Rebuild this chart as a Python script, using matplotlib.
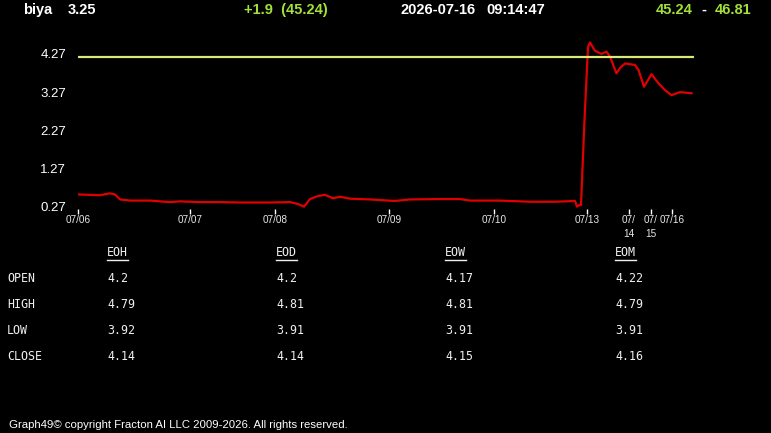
import matplotlib
matplotlib.use("Agg")
import matplotlib.pyplot as plt
from matplotlib.lines import Line2D

# ---------------- data ----------------
symbol = "biya"
last_price = "3.25"
change_text = "+1.9  (45.24)"
date_text = "2026-07-16"
time_text = "09:14:47"
range_low = "45.24"
range_high = "46.81"

# sample index along the session axis and price
t = [0, 2.4, 4.4, 6.4, 7.4, 8.4, 10.4, 14.4, 18.4, 20.4, 24.4, 28.4, 32.4, 38.4,
     42.4, 44.0, 45.2, 46.4, 48.0, 49.4, 51.0, 52.4, 54.4, 58.4, 63.4, 66.4,
     72.4, 76.4, 78.4, 84.4, 90.4, 95.4, 99.4, 99.8, 100.2, 100.6, 101.3, 102.0,
     102.4, 103.4, 104.7, 105.7, 106.4, 107.7, 108.4, 109.4, 111.4, 112.1,
     113.2, 114.7, 116.1, 117.4, 118.7, 120.4, 122.7]
price = [0.59, 0.58, 0.57, 0.62, 0.59, 0.46, 0.43, 0.43, 0.39, 0.41, 0.39, 0.39,
         0.38, 0.38, 0.39, 0.34, 0.27, 0.47, 0.55, 0.58, 0.49, 0.53, 0.48, 0.46,
         0.42, 0.46, 0.47, 0.47, 0.43, 0.43, 0.40, 0.40, 0.42, 0.27, 0.31, 0.31,
         2.54, 4.45, 4.57, 4.35, 4.27, 4.33, 4.20, 3.76, 3.90, 4.02, 3.98, 3.85,
         3.41, 3.74, 3.50, 3.32, 3.19, 3.27, 3.24]
open_level = 4.2

y_ticks = [0.27, 1.27, 2.27, 3.27, 4.27]
x_tick_pos = [0, 22.4, 39.4, 62.2, 83.2, 101.8, 110.2, 114.6, 118.8]
x_tick_labels = ["07/06", "07/07", "07/08", "07/09", "07/10", "07/13",
                 "07/\n14", "07/\n15", "07/16"]

table_cols = ["EOH", "EOD", "EOW", "EOM"]
table_rows = ["OPEN", "HIGH", "LOW", "CLOSE"]
table_vals = [["4.2", "4.2", "4.17", "4.22"],
              ["4.79", "4.81", "4.81", "4.79"],
              ["3.92", "3.91", "3.91", "3.91"],
              ["4.14", "4.14", "4.15", "4.16"]]

footer = "Graph49\u00a9 copyright Fracton AI LLC 2009-2026. All rights reserved."

# ---------------- figure ----------------
W, H = 771, 433
fig = plt.figure(figsize=(W / 100, H / 100), dpi=100, facecolor="black")

def fx(px):
    return px / W

def fy(py):
    return 1 - py / H

GREEN = "#a3e03a"
sans = ["Liberation Sans", "DejaVu Sans"]
mono = ["DejaVu Sans Mono"]

# header
hdr = dict(fontsize=10.5, fontweight="bold", family=sans, va="center")
fig.text(fx(23), fy(10), symbol, color="white", **hdr)
fig.text(fx(68), fy(10), last_price, color="white", **hdr)
fig.text(fx(244), fy(10), change_text, color=GREEN, **hdr)
fig.text(fx(400), fy(10), date_text, color="white", **hdr)
fig.text(fx(486), fy(10), time_text, color="white", **hdr)
fig.text(fx(656), fy(10), range_low, color=GREEN, **hdr)
fig.text(fx(704), fy(10), "-", color="white", ha="center", **hdr)
fig.text(fx(751), fy(10), range_high, color=GREEN, ha="right", **hdr)

# chart
left, right, top, bottom = 78, 694, 38, 209
ax = fig.add_axes([fx(left), fy(bottom), fx(right - left), (bottom - top) / H])
ax.set_facecolor("black")
ax.plot(t, price, color="#e00000", lw=1.6, solid_joinstyle="round")
ax.axhline(open_level, color="#dde87a", lw=1.6)
ax.set_xlim(0, 123.2)
ax.set_ylim(0.27 - 2.3 / 38.2, 0.27 + 168.7 / 38.2)
for s in ax.spines.values():
    s.set_visible(False)
ax.set_yticks(y_ticks)
ax.set_yticklabels([f"{v:.2f}" for v in y_ticks])
ax.tick_params(axis="y", length=0, pad=8.5, labelcolor="white", labelsize=9.5)
for lab in ax.get_yticklabels():
    lab.set_family(sans)
ax.set_xticks(x_tick_pos)
ax.set_xticklabels(x_tick_labels)
ax.tick_params(axis="x", length=3.5, width=1, color="white", direction="out",
               pad=1, labelcolor="#e8e8e8", labelsize=7.2)
for lab in ax.get_xticklabels():
    lab.set_family(sans)
    lab.set_linespacing(1.45)

# table
tfont = dict(fontsize=8.4, family=mono, color="#f0f0f0", va="center")
col_x = [107, 276, 445, 615]
row_y = [279, 305, 331, 357]
head_y = 253
fig.canvas.draw()
renderer = fig.canvas.get_renderer()
for cx, name in zip(col_x, table_cols):
    txt = fig.text(fx(cx), fy(head_y), name, **tfont)
    bb = txt.get_window_extent(renderer)
    fig.add_artist(Line2D([bb.x0 / W, bb.x1 / W], [fy(260), fy(260)],
                          transform=fig.transFigure, color="#f0f0f0", lw=1))
for ry, rname, vals in zip(row_y, table_rows, table_vals):
    fig.text(fx(7), fy(ry), rname, **tfont)
    for cx, v in zip(col_x, vals):
        fig.text(fx(cx), fy(ry), v, **tfont)

# footer
fig.text(fx(9), fy(425), footer, color="white", fontsize=8.2, family=sans,
         va="center")

fig.savefig("out.png", dpi=100, facecolor="black")
